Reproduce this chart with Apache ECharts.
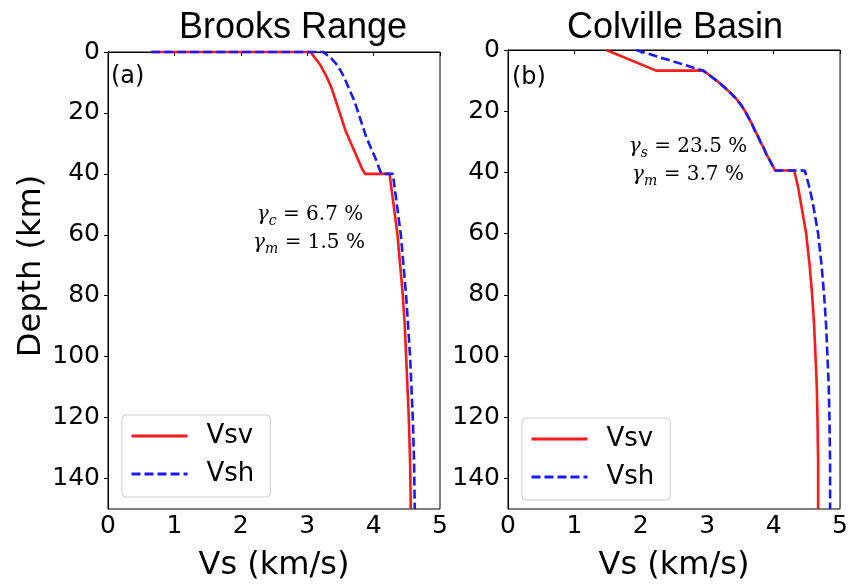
<!DOCTYPE html>
<html>
<head>
<meta charset="utf-8">
<style>
  html, body { margin: 0; padding: 0; background: #fff; }
  #chart { width: 851px; height: 587px; }
</style>
<script src="https://cdn.jsdelivr.net/npm/echarts@6/dist/echarts.min.js"></script>
</head>
<body>
<div id="chart"></div>
<script>
// Brooks Range (a)
var brooksVsvDepth = [0, 0, 2, 4, 6, 8, 10, 12, 14, 16, 18, 20, 22, 24, 26, 28, 30, 32, 34, 36, 38, 40,
  40, 45, 50, 55, 60, 70, 80, 90, 100, 110, 120, 135, 150];
var brooksVsv = [0.65, 3.05, 3.12, 3.19, 3.24, 3.29, 3.33, 3.37, 3.40, 3.43, 3.46, 3.49, 3.52, 3.55, 3.58, 3.62, 3.66, 3.70, 3.74, 3.78, 3.82, 3.87,
  4.24, 4.27, 4.30, 4.33, 4.36, 4.40, 4.44, 4.47, 4.49, 4.51, 4.53, 4.55, 4.56];
var brooksVshDepth = [0, 0, 1, 2, 4, 6, 8, 10, 12, 14, 16, 18, 20, 22, 24, 26, 28, 30, 32, 34, 36, 38, 40,
  40, 45, 50, 55, 60, 70, 80, 90, 100, 110, 120, 135, 150];
var brooksVsh = [0.65, 3.24, 3.30, 3.36, 3.44, 3.50, 3.55, 3.59, 3.63, 3.67, 3.71, 3.74, 3.77, 3.80, 3.83, 3.86, 3.89, 3.93, 3.97, 4.01, 4.05, 4.08, 4.12,
  4.29, 4.32, 4.35, 4.38, 4.41, 4.45, 4.49, 4.52, 4.55, 4.57, 4.59, 4.61, 4.62];

// Colville Basin (b)
var colvilleVsvDepth = [0, 6.75, 6.75, 8, 10, 12, 14, 16, 18, 20, 22, 24, 26, 28, 30, 32, 34, 36, 38, 39.4,
  39.4, 45, 50, 55, 60, 70, 80, 90, 100, 110, 120, 135, 150];
var colvilleVsv = [1.48, 2.23, 2.94, 3.02, 3.14, 3.25, 3.35, 3.44, 3.51, 3.57, 3.62, 3.67, 3.71, 3.76, 3.80, 3.85, 3.89, 3.94, 3.99, 4.02,
  4.31, 4.37, 4.41, 4.45, 4.49, 4.54, 4.58, 4.61, 4.63, 4.65, 4.66, 4.67, 4.67];
var colvilleVshDepth = [0, 6.75, 8, 10, 12, 14, 16, 18, 20, 22, 24, 26, 28, 30, 32, 34, 36, 38, 39.4,
  39.4, 45, 50, 55, 60, 70, 80, 90, 100, 110, 120, 135, 150];
var colvilleVsh = [1.93, 2.94, 3.02, 3.14, 3.25, 3.35, 3.44, 3.51, 3.57, 3.62, 3.67, 3.71, 3.76, 3.80, 3.85, 3.89, 3.94, 3.99, 4.02,
  4.47, 4.54, 4.59, 4.63, 4.67, 4.72, 4.76, 4.79, 4.81, 4.83, 4.84, 4.85, 4.85];

var panelTitles = ['Brooks Range', 'Colville Basin'];
var seriesNames = ['Vsv', 'Vsh'];

function pairs(xs, ys) {
  return xs.map(function (v, i) { return [v, ys[i]]; });
}

var chart = echarts.init(document.getElementById('chart'));

var tickFont = { fontFamily: 'DejaVu Sans', fontSize: 25, color: '#000' };

function makeX(idx) {
  return {
    gridIndex: idx, type: 'value', min: 0, max: 5, interval: 1,
    name: 'Vs (km/s)', nameLocation: 'middle', nameGap: 41,
    nameTextStyle: { fontFamily: 'DejaVu Sans', fontSize: 32, color: '#000' },
    axisLine: { lineStyle: { color: '#000', width: 1 } },
    axisTick: { length: 4, lineStyle: { color: '#000' } },
    axisLabel: Object.assign({ margin: 5 }, tickFont),
    splitLine: { show: false }
  };
}
function makeY(idx) {
  return {
    gridIndex: idx, type: 'value', inverse: true, min: 0, max: 150, interval: 20,
    axisLine: { lineStyle: { color: '#000', width: 1 } },
    axisTick: { length: 4, lineStyle: { color: '#000' } },
    axisLabel: Object.assign({ margin: 8, showMaxLabel: false }, tickFont),
    splitLine: { show: false }
  };
}
function makeLine(name, idx, data, color, dashed) {
  return {
    name: name, type: 'line', xAxisIndex: idx, yAxisIndex: idx,
    data: data, symbol: 'none', clip: false, animation: false,
    lineStyle: { color: color, width: 2.6, type: dashed ? [9, 4] : 'solid' },
    itemStyle: { color: color }
  };
}
function makeLegend(x, y) {
  return {
    left: x, top: y, orient: 'vertical', data: seriesNames,
    itemWidth: 56, itemHeight: 20, itemGap: 12,
    padding: [8, 16, 10, 8],
    backgroundColor: '#fff', borderColor: '#ccc', borderWidth: 1, borderRadius: 4,
    itemStyle: { opacity: 0, borderWidth: 0 },
    lineStyle: { width: 3 },
    textStyle: { fontFamily: 'DejaVu Sans', fontSize: 26, color: '#000', padding: [0, 0, 0, 14] }
  };
}

var mathRich = {
  g: { fontFamily: 'DejaVu Serif', fontStyle: 'italic', fontSize: 20, lineHeight: 26 },
  s: { fontFamily: 'DejaVu Serif', fontStyle: 'italic', fontSize: 14, lineHeight: 14, verticalAlign: 'bottom' },
  t: { fontFamily: 'DejaVu Serif', fontSize: 20, lineHeight: 26 }
};
function mathText(x, y, sub, value) {
  return {
    type: 'text', x: x, y: y,
    style: {
      text: '{g|γ}{s|' + sub + '}{t| = ' + value + ' %}',
      rich: mathRich, fill: '#000', align: 'center', verticalAlign: 'middle'
    }
  };
}

var option = {
  backgroundColor: '#fff',
  animation: false,
  grid: [
    { left: 108, top: 52, width: 332, height: 461, show: true, borderColor: '#000', borderWidth: 1, backgroundColor: 'transparent' },
    { left: 508, top: 50, width: 333, height: 467, show: true, borderColor: '#000', borderWidth: 1, backgroundColor: 'transparent' }
  ],
  xAxis: [makeX(0), makeX(1)],
  yAxis: [makeY(0), makeY(1)],
  legend: [makeLegend(122, 415), makeLegend(522, 418)],
  series: [
    makeLine('Vsv', 0, pairs(brooksVsv, brooksVsvDepth), '#ff1a1a', false),
    makeLine('Vsh', 0, pairs(brooksVsh, brooksVshDepth), '#1a1aff', true),
    makeLine('Vsv', 1, pairs(colvilleVsv, colvilleVsvDepth), '#ff1a1a', false),
    makeLine('Vsh', 1, pairs(colvilleVsh, colvilleVshDepth), '#1a1aff', true)
  ],
  graphic: [
    { type: 'text', x: 293, y: 28, style: { text: panelTitles[0], font: '36px "Liberation Sans"', fill: '#000', align: 'center', verticalAlign: 'middle' } },
    { type: 'text', x: 675, y: 28, style: { text: panelTitles[1], font: '36px "Liberation Sans"', fill: '#000', align: 'center', verticalAlign: 'middle' } },
    { type: 'text', x: 32, y: 266, rotation: Math.PI / 2, style: { text: 'Depth (km)', font: '32px "DejaVu Sans"', fill: '#000', align: 'center', verticalAlign: 'middle' } },
    { type: 'text', x: 111, y: 77, style: { text: '(a)', font: '24px "DejaVu Sans"', fill: '#000', align: 'left', verticalAlign: 'middle' } },
    { type: 'text', x: 512, y: 78, style: { text: '(b)', font: '24px "DejaVu Sans"', fill: '#000', align: 'left', verticalAlign: 'middle' } },
    mathText(310, 215, 'c', '6.7'),
    mathText(309, 243, 'm', '1.5'),
    mathText(688, 147, 's', '23.5'),
    mathText(688, 175, 'm', '3.7')
  ]
};

chart.setOption(option);
</script>
</body>
</html>
